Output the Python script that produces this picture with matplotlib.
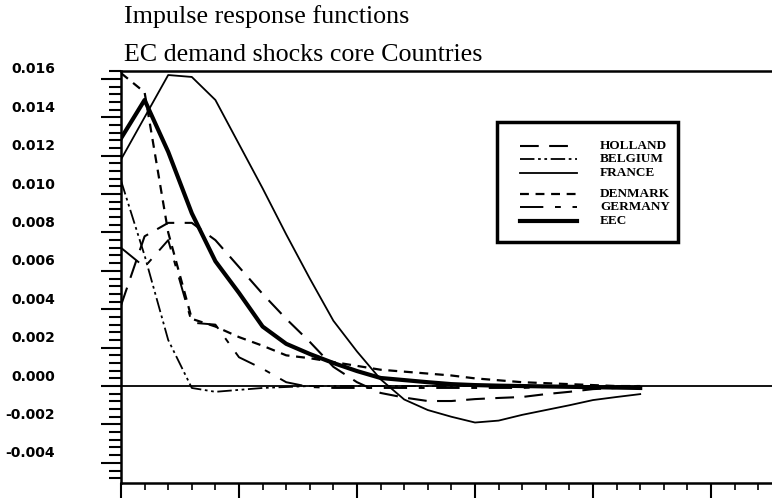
import matplotlib
matplotlib.use('Agg')
import matplotlib.pyplot as plt
from matplotlib.lines import Line2D
from matplotlib.patches import Rectangle
from matplotlib.ticker import MultipleLocator, FormatStrFormatter
from matplotlib.transforms import ScaledTranslation

# periods after the shock
periods = list(range(23))

# responses, in units of 0.001
holland = [4.2, 7.8, 8.5, 8.5, 7.6, 6.2, 4.8, 3.5, 2.3, 1.0, 0.2, -0.36, -0.6,
           -0.78, -0.78, -0.68, -0.62, -0.57, -0.42, -0.3, -0.16, -0.1, -0.05]
belgium = [10.7, 6.8, 2.4, -0.1, -0.3, -0.2, -0.1, -0.05, 0.0, 0.0, 0.0, 0.0,
           0.0, 0.0, 0.0, 0.0, 0.0, 0.0, 0.0, 0.0, 0.0, 0.0, 0.0]
france = [11.8, 14.0, 16.2, 16.1, 14.9, 12.6, 10.3, 7.9, 5.6, 3.4, 1.8, 0.35, -0.7,
          -1.25, -1.6, -1.9, -1.8, -1.5, -1.25, -1.0, -0.73, -0.57, -0.42]
denmark = [16.3, 15.3, 8.0, 3.5, 3.1, 2.55, 2.1, 1.6, 1.45, 1.25, 1.05, 0.85, 0.75,
           0.65, 0.55, 0.4, 0.3, 0.2, 0.15, 0.1, 0.05, 0.0, 0.0]
germany = [7.2, 6.2, 7.6, 3.3, 3.2, 1.5, 0.9, 0.2, -0.05, -0.1, -0.1, -0.1,
           -0.1, -0.1, -0.1, -0.1, -0.1, -0.1, -0.05, -0.05, -0.05, -0.05, -0.05]
eec = [12.9, 14.9, 12.2, 9.0, 6.5, 4.85, 3.1, 2.2, 1.67, 1.2, 0.78, 0.42, 0.31,
       0.2, 0.1, 0.05, 0.02, 0.0, -0.02, -0.04, -0.06, -0.08, -0.1]

names = ['HOLLAND', 'BELGIUM', 'FRANCE', 'DENMARK', 'GERMANY', 'EEC']
y_ticks = [-0.004, -0.002, 0.0, 0.002, 0.004, 0.006, 0.008, 0.010, 0.012, 0.014, 0.016]

series = [holland, belgium, france, denmark, germany, eec]
widths = [1.5, 1.3, 1.3, 1.6, 1.4, 3.0]
styles = [(0, (9, 5)), (0, (8, 2, 1.5, 2, 1.5, 2)), '-', (0, (4, 3)), (0, (12, 6, 3, 6)), '-']

W, H = 772, 500
fig = plt.figure(figsize=(W / 100, H / 100), dpi=100)

# axes box in pixels: left 121, top 71, bottom 483, right runs off the page
left, top, bottom, right = 121, 71, 483, 829
ax = fig.add_axes([left / W, 1 - bottom / H, (right - left) / W, (bottom - top) / H])

for vals, lw, ls in zip(series, widths, styles):
    ax.plot(periods, [v / 1000 for v in vals], color='black', lw=lw, ls=ls)

# zero line
ax.axhline(0, color='black', lw=1.3)

ax.set_xlim(0, 30)
ax.set_ylim(-0.00505, 0.01641)

ax.xaxis.set_major_locator(MultipleLocator(5))
ax.xaxis.set_minor_locator(MultipleLocator(1))
ax.set_yticks(y_ticks)
ax.yaxis.set_minor_locator(MultipleLocator(0.0004))
ax.yaxis.set_major_formatter(FormatStrFormatter('%.3f'))
ax.set_xticklabels([])

ax.tick_params(axis='y', which='major', direction='out', length=14.4, width=1.5, pad=33,
               labelsize=10)
ax.tick_params(axis='y', which='minor', direction='out', length=8.6, width=1.5)
ax.tick_params(axis='x', which='major', direction='out', length=10.8, width=1.5)
ax.tick_params(axis='x', which='minor', direction='out', length=5, width=1.2)

# tick labels sit a little above their ticks in the original
shift = ScaledTranslation(0, 11 / 100, fig.dpi_scale_trans)
for lab in ax.get_yticklabels():
    lab.set_transform(lab.get_transform() + shift)
    lab.set_fontweight('bold')

for s in ['left', 'bottom', 'top']:
    ax.spines[s].set_linewidth(1.8)
ax.spines['right'].set_visible(False)

fig.text(124 / W, 1 - 17 / H, 'Impulse response functions', family='Liberation Serif',
         fontsize=18.7, ha='left', va='center')
fig.text(124 / W, 1 - 55 / H, 'EC demand shocks core Countries', family='Liberation Serif',
         fontsize=18.7, ha='left', va='center')

# legend box drawn by hand, rows are not evenly spaced in the original
fig.add_artist(Rectangle((497 / W, 1 - 242 / H), 181 / W, 120 / H, transform=fig.transFigure,
                         fill=True, facecolor='white', edgecolor='black', lw=2.5))
rows = [146, 159, 173, 194, 207, 221]
for name, y, lw, ls in zip(names, rows, widths, styles):
    fy = 1 - y / H
    fig.add_artist(Line2D([520 / W, 577 / W], [fy, fy], transform=fig.transFigure,
                          color='black', lw=lw, ls=ls))
    fig.text(600 / W, fy, name, family='Liberation Serif', fontsize=9.5, weight='bold',
             ha='left', va='center')

fig.savefig('out.png', dpi=100)
